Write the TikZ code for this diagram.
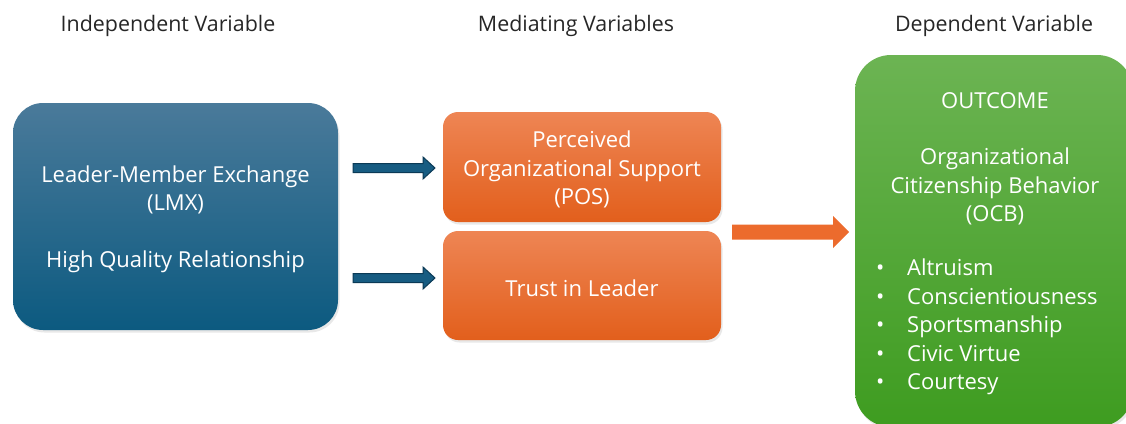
\documentclass[tikz,border=0pt]{standalone}
\usepackage{fontspec}
\setmainfont{Open Sans}
\usetikzlibrary{shadows,calc}
\definecolor{headtext}{HTML}{262626}
\definecolor{blueTop}{HTML}{4A7A9A}
\definecolor{blueBot}{HTML}{0C5A80}
\definecolor{orangeTop}{HTML}{EE8554}
\definecolor{orangeBot}{HTML}{E25F1C}
\definecolor{greenTop}{HTML}{6CB453}
\definecolor{greenBot}{HTML}{3E9C20}
\definecolor{arrowBlue}{HTML}{175C82}
\definecolor{arrowEdge}{HTML}{0B3A56}
\definecolor{arrowOrange}{HTML}{EC6B2D}
% block arrow from #2 (tail, middle of shaft) to #3 (tip):
% #4 = half shaft height, #5 = half head height, #6 = head length
\newcommand{\blockarrow}[6][]{%
  \path[#1] (#2) ++(0,-#4) -- ++(0,2*#4) -| ($(#3)+(-#6,#4)$) -- ($(#3)+(-#6,#5)$)
    -- (#3) -- ($(#3)+(-#6,-#5)$) -- ($(#3)+(-#6,-#4)$) -- cycle;}
\begin{document}
\begin{tikzpicture}[x=1pt,y=-1pt,
  every node/.style={font=\fontsize{22}{28.5}\selectfont},
  heading/.style={text=headtext, inner sep=0pt, font=\fontsize{21.4}{28}\selectfont},
  panel/.style={draw=none, align=center, text=white, inner sep=0pt,
    drop shadow={opacity=0.18, shadow xshift=1.5pt, shadow yshift=-2.5pt}},
  bluebox/.style={panel, rounded corners=30pt, top color=blueTop, bottom color=blueBot},
  orangebox/.style={panel, rounded corners=15pt, top color=orangeTop, bottom color=orangeBot},
  greenbox/.style={panel, rounded corners=36pt, top color=greenTop, bottom color=greenBot},
  bluearrow/.style={draw=arrowEdge, line width=1pt, fill=arrowBlue, line join=miter},
  orangearrow/.style={draw=none, fill=arrowOrange},
  celltext/.style={text=white, align=center, inner sep=0pt}
]
\useasboundingbox (0,0) rectangle (1126,423);
\begin{scope}
\clip (0,0) rectangle (1126,423);

% column headings
\node[heading] (hInd) at (168,26) {Independent Variable};
\node[heading] (hMed) at (576,26) {Mediating Variables};
\node[heading] (hDep) at (994,26) {Dependent Variable};

% independent variable
\node[bluebox, minimum width=325pt, minimum height=227pt] (lmx) at (175.5,216.5) {};
\node[celltext] (lmxText) at (175.5,219.5)
  {Leader-Member Exchange\\(LMX)\\[28.5pt]High Quality Relationship};

% mediating variables
\node[orangebox, minimum width=278pt, minimum height=110pt] (pos) at (582,167) {};
\node[celltext] (posText) at (582,169.5) {Perceived\\Organizational Support\\(POS)};
\node[orangebox, minimum width=278pt, minimum height=109pt] (trust) at (582,285.5) {};
\node[celltext] (trustText) at (582,288) {Trust in Leader};

% dependent variable
\node[greenbox, minimum width=278pt, minimum height=372pt] (ocb) at (994,241) {};
\node[celltext] (ocbHead) at (995,159)
  {OUTCOME\\[28pt]Organizational\\Citizenship Behavior\\(OCB)};
\node[celltext, align=left, anchor=west] (ocbList) at (876,327)
  {\makebox[31pt][l]{\textbullet}Altruism\\
   \makebox[31pt][l]{\textbullet}Conscientiousness\\
   \makebox[31pt][l]{\textbullet}Sportsmanship\\
   \makebox[31pt][l]{\textbullet}Civic Virtue\\
   \makebox[31pt][l]{\textbullet}Courtesy};

% block arrows between the columns
\coordinate (a1s) at (353,168);  \coordinate (a1e) at (435,168);
\coordinate (a2s) at (353,278);  \coordinate (a2e) at (435,278);
\coordinate (a3s) at (732,232);  \coordinate (a3e) at (849,232);
\blockarrow[bluearrow]{a1s}{a1e}{4.5}{11}{12}
\blockarrow[bluearrow]{a2s}{a2e}{4.5}{11}{12}
\blockarrow[orangearrow]{a3s}{a3e}{7.5}{16}{16}
\end{scope}
\end{tikzpicture}
\end{document}
